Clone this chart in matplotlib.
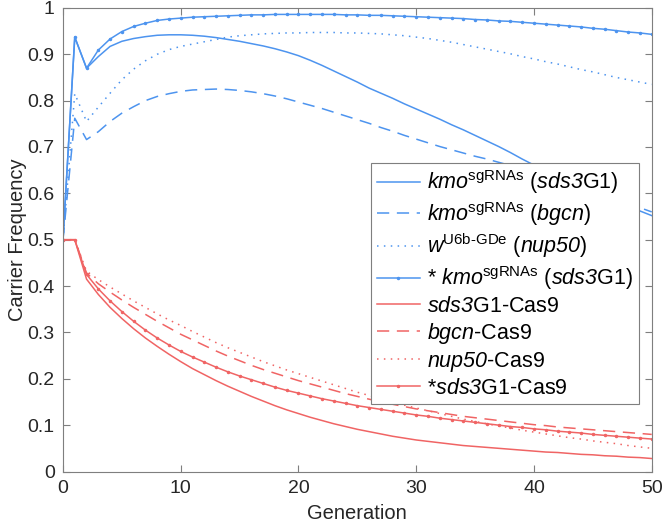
import numpy as np
import matplotlib
matplotlib.use('Agg')
import matplotlib.pyplot as plt

plt.rcParams['font.family'] = ['Liberation Sans', 'DejaVu Sans']
plt.rcParams['mathtext.fontset'] = 'custom'
plt.rcParams['mathtext.rm'] = 'Liberation Sans'
plt.rcParams['mathtext.sf'] = 'Liberation Sans:italic'  # cursiva, tambien para los digitos

generacion = np.arange(0, 51)

# Drive (azul)
kmo_sds3 = [0.5, 0.937, 0.870, 0.895, 0.917, 0.928, 0.934, 0.938, 0.941, 0.942,
            0.942, 0.941, 0.939, 0.936, 0.932, 0.928, 0.923, 0.918, 0.912, 0.905,
            0.897, 0.887, 0.876, 0.864, 0.852, 0.840, 0.827, 0.816, 0.805, 0.793,
            0.782, 0.771, 0.760, 0.748, 0.737, 0.725, 0.713, 0.701, 0.688, 0.674,
            0.661, 0.650, 0.639, 0.628, 0.617, 0.606, 0.595, 0.584, 0.573, 0.562, 0.552]
kmo_bgcn = [0.5, 0.762, 0.716, 0.733, 0.755, 0.773, 0.787, 0.800, 0.809, 0.815,
            0.820, 0.823, 0.824, 0.825, 0.824, 0.822, 0.819, 0.815, 0.810, 0.804,
            0.797, 0.790, 0.783, 0.775, 0.767, 0.759, 0.751, 0.742, 0.734, 0.725,
            0.717, 0.709, 0.701, 0.694, 0.687, 0.680, 0.674, 0.667, 0.660, 0.653,
            0.646, 0.638, 0.630, 0.622, 0.613, 0.605, 0.596, 0.587, 0.578, 0.569, 0.560]
w_nup50 = [0.5, 0.815, 0.755, 0.786, 0.816, 0.845, 0.868, 0.886, 0.900, 0.910,
           0.917, 0.922, 0.927, 0.932, 0.937, 0.940, 0.942, 0.944, 0.945, 0.946,
           0.946, 0.947, 0.947, 0.947, 0.946, 0.946, 0.945, 0.944, 0.942, 0.940,
           0.937, 0.934, 0.930, 0.926, 0.921, 0.916, 0.911, 0.906, 0.901, 0.895,
           0.890, 0.884, 0.879, 0.873, 0.867, 0.862, 0.856, 0.850, 0.845, 0.840, 0.835]
kmo_sds3_est = [0.5, 0.937, 0.870, 0.909, 0.933, 0.949, 0.960, 0.967, 0.973, 0.976,
                0.978, 0.980, 0.981, 0.982, 0.983, 0.984, 0.985, 0.985, 0.986, 0.986,
                0.986, 0.986, 0.986, 0.986, 0.985, 0.985, 0.984, 0.984, 0.983, 0.982,
                0.981, 0.980, 0.979, 0.978, 0.977, 0.975, 0.974, 0.972, 0.971, 0.969,
                0.967, 0.965, 0.963, 0.961, 0.959, 0.956, 0.954, 0.951, 0.948, 0.946, 0.943]

# Cas9 (rojo)
sds3_cas9 = [0.5, 0.5, 0.415, 0.382, 0.354, 0.330, 0.308, 0.288, 0.270, 0.253,
             0.237, 0.222, 0.209, 0.196, 0.184, 0.173, 0.162, 0.152, 0.142, 0.133,
             0.125, 0.117, 0.110, 0.103, 0.097, 0.091, 0.086, 0.081, 0.076, 0.072,
             0.068, 0.065, 0.062, 0.059, 0.056, 0.054, 0.052, 0.050, 0.048, 0.046,
             0.044, 0.042, 0.041, 0.039, 0.037, 0.036, 0.034, 0.033, 0.031, 0.030, 0.028]
bgcn_cas9 = [0.5, 0.5, 0.428, 0.405, 0.387, 0.370, 0.354, 0.339, 0.324, 0.310,
             0.296, 0.284, 0.272, 0.260, 0.249, 0.239, 0.229, 0.220, 0.212, 0.204,
             0.196, 0.189, 0.182, 0.175, 0.168, 0.162, 0.156, 0.150, 0.145, 0.140,
             0.135, 0.131, 0.127, 0.123, 0.119, 0.116, 0.113, 0.110, 0.107, 0.104,
             0.101, 0.099, 0.096, 0.094, 0.092, 0.090, 0.088, 0.086, 0.084, 0.082, 0.080]
nup50_cas9 = [0.5, 0.5, 0.432, 0.414, 0.398, 0.383, 0.368, 0.354, 0.340, 0.327,
              0.315, 0.302, 0.290, 0.278, 0.267, 0.257, 0.247, 0.237, 0.228, 0.219,
              0.211, 0.203, 0.195, 0.187, 0.179, 0.171, 0.164, 0.157, 0.150, 0.143,
              0.137, 0.131, 0.125, 0.119, 0.113, 0.108, 0.103, 0.098, 0.094, 0.089,
              0.085, 0.081, 0.077, 0.073, 0.070, 0.066, 0.063, 0.060, 0.056, 0.053, 0.050]
sds3_cas9_est = [0.5, 0.5, 0.425, 0.394, 0.368, 0.345, 0.324, 0.305, 0.288, 0.273,
                 0.259, 0.247, 0.236, 0.225, 0.215, 0.206, 0.198, 0.190, 0.182, 0.175,
                 0.169, 0.163, 0.157, 0.152, 0.147, 0.142, 0.138, 0.134, 0.130, 0.126,
                 0.122, 0.119, 0.115, 0.112, 0.109, 0.106, 0.103, 0.100, 0.097, 0.095,
                 0.092, 0.090, 0.087, 0.085, 0.083, 0.080, 0.078, 0.076, 0.074, 0.072, 0.070]

etiquetas = [r'$\mathsf{kmo}^{\mathrm{sgRNAs}}$ ($\mathsf{sds3}$G1)',
             r'$\mathsf{kmo}^{\mathrm{sgRNAs}}$ ($\mathsf{bgcn}$)',
             r'$\mathsf{w}^{\mathrm{U6b\text{-}GDe}}$ ($\mathsf{nup50}$)',
             r'* $\mathsf{kmo}^{\mathrm{sgRNAs}}$ ($\mathsf{sds3}$G1)',
             r'$\mathsf{sds3}$G1-Cas9',
             r'$\mathsf{bgcn}$-Cas9',
             r'$\mathsf{nup50}$-Cas9',
             r'*$\mathsf{sds3}$G1-Cas9']

azul = '#4d94ef'
rojo = '#f06464'
series = [kmo_sds3, kmo_bgcn, w_nup50, kmo_sds3_est,
          sds3_cas9, bgcn_cas9, nup50_cas9, sds3_cas9_est]
colores = [azul] * 4 + [rojo] * 4
estilos = ['-', (0, (8, 5)), (0, (1, 3.5)), '-'] * 2
marcas = ['', '', '', '.'] * 2

fig = plt.figure(figsize=(6.63, 5.28), dpi=100)
ax = fig.add_axes([0.095, 0.107, 0.888, 0.878])
for i, s in enumerate(series):
    ax.plot(generacion, s, color=colores[i], linestyle=estilos[i], marker=marcas[i],
            markersize=3, linewidth=1.1, label=etiquetas[i])

ax.set_xlim(0, 50)
ax.set_ylim(0, 1)
ax.set_xticks(np.arange(0, 51, 10))
ax.set_yticks(np.arange(0, 1.01, 0.1))
ax.set_yticklabels(['0', '0.1', '0.2', '0.3', '0.4', '0.5', '0.6', '0.7', '0.8', '0.9', '1'])
ax.tick_params(direction='in', top=True, right=True, labelsize=14, colors='#7f7f7f',
               labelcolor='#262626', length=5, pad=6)
for sp in ax.spines.values():
    sp.set_color('#7f7f7f')
ax.set_xlabel('Generation', fontsize=14.5, color='#262626', labelpad=5)
ax.set_ylabel('Carrier Frequency', fontsize=14.5, color='#262626', labelpad=0)

leg = ax.legend(loc='upper right', bbox_to_anchor=(0.978, 0.666), borderaxespad=0,
                fontsize=15.5, handlelength=2.0, labelspacing=0.18, fancybox=False,
                framealpha=1, edgecolor='#7f7f7f', borderpad=0.25, handletextpad=0.35)
leg.get_frame().set_linewidth(0.8)

plt.savefig('out.png', dpi=100)
